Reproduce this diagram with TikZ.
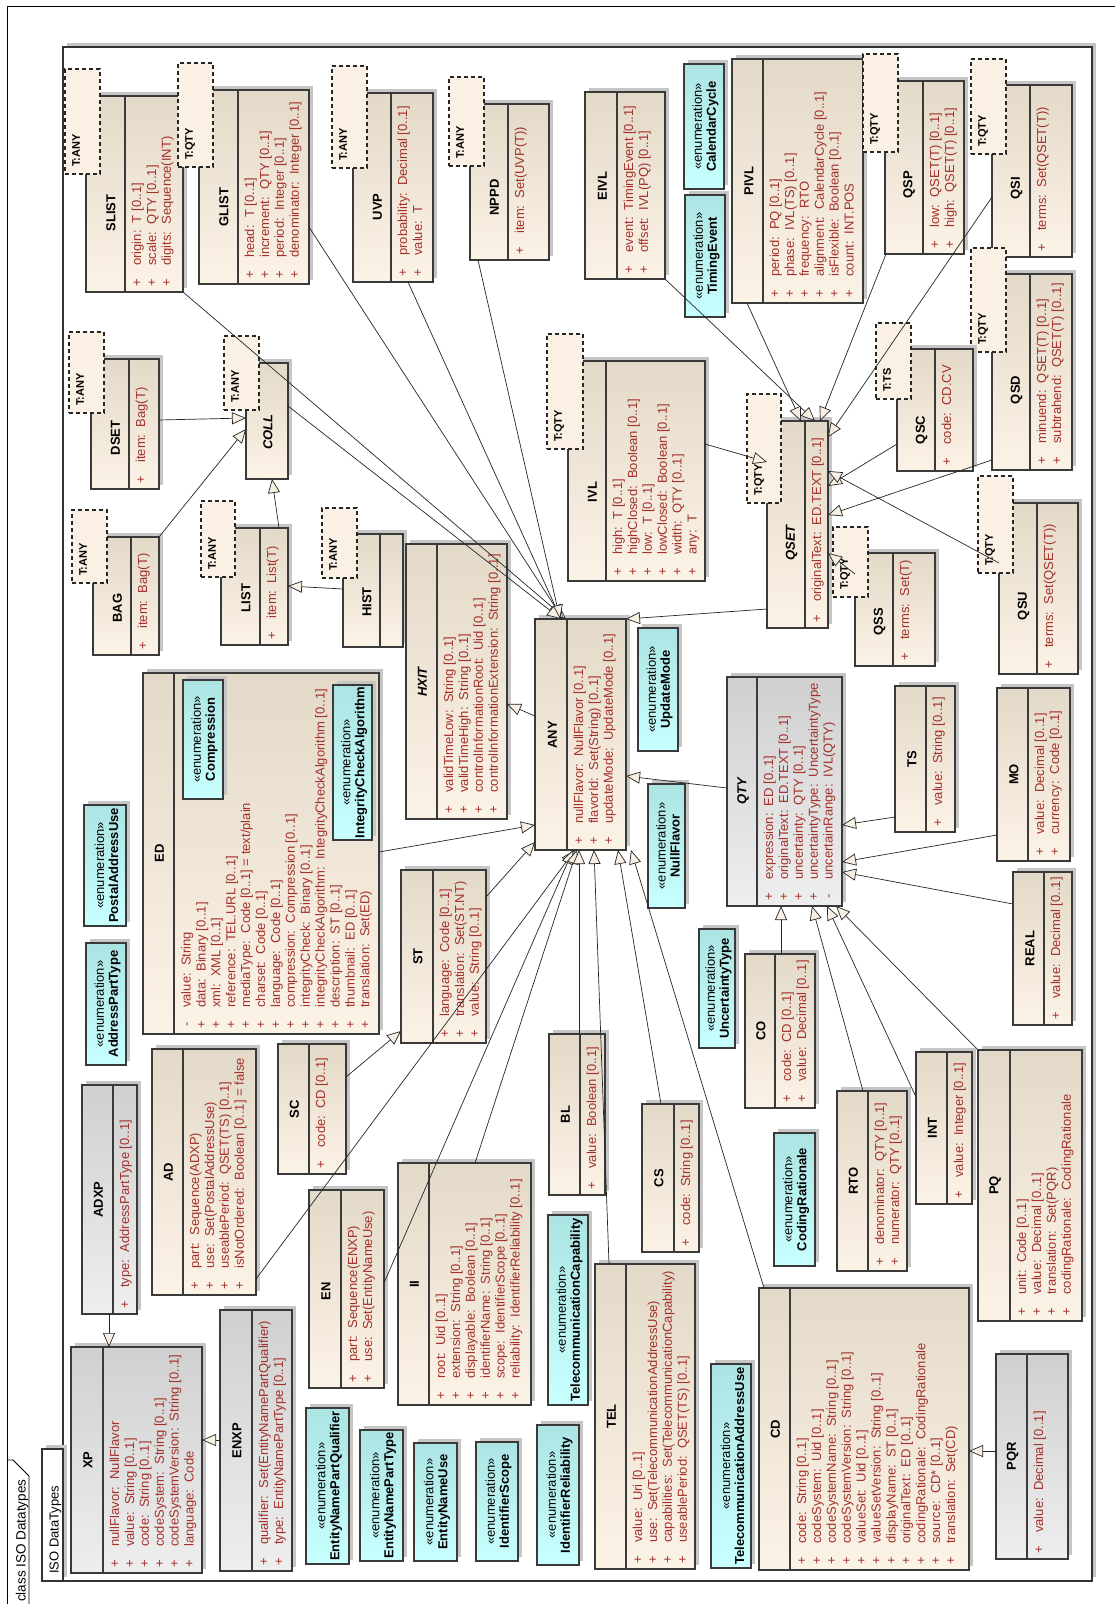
\documentclass[tikz,border=0pt]{standalone}
\usepackage{fontspec}
\setmainfont{Liberation Sans}
\usetikzlibrary{arrows.meta,calc}
\definecolor{bgtop}{HTML}{E3D9C8}
\definecolor{bgbot}{HTML}{FCF3E7}
\definecolor{grtop}{HTML}{D0D0D0}
\definecolor{grbot}{HTML}{EEEEEE}
\definecolor{cytop}{HTML}{ACE4E4}
\definecolor{cybot}{HTML}{C8FFFF}
\definecolor{shadowc}{HTML}{C6C6C6}
\definecolor{tmplfill}{HTML}{FAF0E3}
\definecolor{attrc}{HTML}{A3302A}
\definecolor{boxline}{HTML}{3A3A3A}
\definecolor{arrowfill}{HTML}{F8F0E2}
\newcommand\attrs[1]{\begin{tabular}{@{}c@{\hspace{13pt}}l@{}}#1\end{tabular}}
\newcommand\cbox[7]{%
  \fill[shadowc] ({#3+4},{#4-4}) rectangle ({#5+4},{#6-4});
  \node[#2, minimum width={#5-#3}, minimum height={#6-#4}, anchor=north west] (#1) at (#3,#4) {};
  \ifx\relax#7\relax\else\draw[boxl] (#7,#4) -- (#7,#6);\fi
}
\newcommand\tmpl[6]{%
  \node[tmplbox, minimum width={#4-#2}, minimum height={#5-#3}, anchor=north west] (#1) at (#2,#3) {};
  \node[tlbl] (#1-l) at ({#2+7},{#5-7}) {#6};
}
\newcommand\enm[6]{%
  \fill[shadowc] ({#2+4},{#3-4}) rectangle ({#4+4},{#5-4});
  \node[enumc, minimum width={#4-#2}, minimum height={#5-#3}, anchor=north west] (#1) at (#2,#3) {};
  \node[etxt] (#1-t) at ({(#2+#4)/2+1.5},{(#3+#5)/2}) {«enumeration»\\\textbf{#6}};
}
\begin{document}
\begin{tikzpicture}[x=1pt,y=-1pt,
  boxbase/.style={draw=boxline, line width=1.1pt, inner sep=0pt, outer sep=0pt},
  beige/.style={boxbase, top color=bgtop, bottom color=bgbot},
  grayc/.style={boxbase, top color=grtop, bottom color=grbot},
  enumc/.style={boxbase, top color=cytop, bottom color=cybot},
  boxl/.style={draw=boxline, line width=1.1pt},
  tmplbox/.style={draw=black!85, dash pattern=on 4pt off 3pt, fill=tmplfill, line width=1.1pt, inner sep=0pt, outer sep=0pt},
  tlbl/.style={rotate=90, anchor=north west, inner sep=0pt, font=\fontsize{11}{13}\selectfont\bfseries},
  ttl/.style={rotate=90, inner sep=0pt, font=\fontsize{13}{15}\selectfont\bfseries},
  ttli/.style={rotate=90, inner sep=0pt, font=\fontsize{13}{15}\selectfont\bfseries\itshape},
  attr/.style={rotate=90, anchor=north west, inner sep=0pt, font=\fontsize{13}{14.9}\selectfont, text=attrc},
  etxt/.style={rotate=90, align=center, inner sep=0pt, font=\fontsize{13}{14}\selectfont},
  gen/.style={draw=black!85, line width=0.7pt, -{Triangle[length=14pt,width=12pt,fill=arrowfill]}},
]
\fill[white] (0,0) rectangle (1115,1604);
\useasboundingbox (0,0) rectangle (1115,1604);
% outer frame
\draw[line width=1pt] (7,1610) -- (7,6) -- (1120,6);
\draw[line width=0.8pt] (7,1460) -- (13,1460) -- (29,1476) -- (29,1610);
\node[rotate=90, anchor=base west, inner sep=0pt, font=\fontsize{13.5}{15}\selectfont] (frame-l) at (25.5,1602) {class ISO Datatypes};
% package frame
\fill[shadowc] (67,43) rectangle (1096,1577);
\draw[fill=white, line width=1.3pt, draw=black!80] (63,47) rectangle (1092,1581);
\fill[shadowc] (46,1445) rectangle (67,1577);
\draw[fill=white, line width=1.1pt, draw=black!80] (42,1449) rectangle (63,1581);
\node[rotate=90, anchor=base west, inner sep=0pt, font=\fontsize{13}{15}\selectfont] (pkg-l) at (58.5,1574) {ISO DataTypes};

% ---------------- classes ----------------
\cbox{SLIST}{beige}{86}{96}{183}{292}{125}
\node[ttl] (SLIST-t) at (111,213) {SLIST};
\node[attr] (SLIST-a) at (130.5,286.5) {\attrs{+ & origin:~~T [0..1]\\+ & scale:~~QTY [0..1]\\+ & digits:~~Sequence(INT)}};
\tmpl{SLIST-p}{65}{69}{100}{174}{T:ANY}

\cbox{GLIST}{beige}{199}{90}{309}{284}{238}
\node[ttl] (GLIST-t) at (224,207) {GLIST};
\node[attr] (GLIST-a) at (243.5,278.5) {\attrs{+ & head:~~T [0..1]\\+ & increment:~~QTY [0..1]\\+ & period:~~Integer [0..1]\\+ & denominator:~~Integer [0..1]}};
\tmpl{GLIST-p}{178}{63}{213}{167}{T:QTY}

\cbox{UVP}{beige}{353}{93}{433}{282}{391}
\node[ttl] (UVP-t) at (377.5,207) {UVP};
\node[attr] (UVP-a) at (396.5,276.5) {\attrs{+ & probability:~~Decimal [0..1]\\+ & value:~~T}};
\tmpl{UVP-p}{332}{66}{367}{168}{T:ANY}

\cbox{NPPD}{beige}{470}{104}{549}{260}{508}
\node[ttl] (NPPD-t) at (494.5,197.5) {NPPD};
\node[attr] (NPPD-a) at (513.5,254.5) {\attrs{+ & item:~~Set(UVP(T))}};
\tmpl{NPPD-p}{449}{77}{484}{166}{T:ANY}

\cbox{EIVL}{beige}{585}{92}{665}{279}{617}
\node[ttl] (EIVL-t) at (602.5,186) {EIVL};
\node[attr] (EIVL-a) at (622.5,273.5) {\attrs{+ & event:~~TimingEvent [0..1]\\+ & offset:~~IVL(PQ) [0..1]}};

\cbox{PIVL}{beige}{732}{59}{863}{303}{763}
\node[ttl] (PIVL-t) at (749,181) {PIVL};
\node[attr] (PIVL-a) at (768.5,297.5) {\attrs{+ & period:~~PQ [0..1]\\+ & phase:~~IVL(TS) [0..1]\\+ & frequency:~~RTO\\+ & alignment:~~CalendarCycle [0..1]\\+ & isFlexible:~~Boolean [0..1]\\+ & count:~~INT.POS}};

\cbox{QSP}{beige}{885}{81}{964}{254}{923}
\node[ttl] (QSP-t) at (909,185) {QSP};
\node[attr] (QSP-a) at (928.5,248.5) {\attrs{+ & low:~~QSET(T) [0..1]\\+ & high:~~QSET(T) [0..1]}};
\tmpl{QSP-p}{863}{54}{898}{152}{T:QTY}

\cbox{QSI}{beige}{992}{85}{1072}{257}{1030}
\node[ttl] (QSI-t) at (1016.5,188) {QSI};
\node[attr] (QSI-a) at (1035.5,251.5) {\attrs{+ & terms:~~Set(QSET(T))}};
\tmpl{QSI-p}{971}{59}{1006}{154}{T:QTY}

\cbox{QSD}{beige}{992}{274}{1072}{470}{1030}
\node[ttl] (QSD-t) at (1016.5,390) {QSD};
\node[attr] (QSD-a) at (1035.5,464.5) {\attrs{+ & minuend:~~QSET(T) [0..1]\\+ & subtrahend:~~QSET(T) [0..1]}};
\tmpl{QSD-p}{971}{248}{1006}{352}{T:QTY}

\cbox{QSC}{beige}{897}{349}{973}{471}{935}
\node[ttl] (QSC-t) at (921.5,430) {QSC};
\node[attr] (QSC-a) at (940.5,465.5) {\attrs{+ & code:~~CD.CV}};
\tmpl{QSC-p}{876}{323}{911}{399}{T:TS}

\cbox{QSET}{beige}{767}{421}{828}{628}{805}
\node[ttli] (QSET-t) at (791.5,543) {QSET};
\node[attr] (QSET-a) at (810.5,622.5) {\attrs{+ & originalText:~~ED.TEXT [0..1]}};
\tmpl{QSET-p}{747}{394}{781}{503}{T:QTY}

\cbox{QSS}{beige}{855}{553}{935}{666}{893}
\node[ttl] (QSS-t) at (879.5,622) {QSS};
\node[attr] (QSS-a) at (898.5,660.5) {\attrs{+ & terms:~~Set(T)}};
\tmpl{QSS-p}{833}{527}{868}{597}{T:QTY}

\cbox{QSU}{beige}{999}{503}{1078}{674}{1037}
\node[ttl] (QSU-t) at (1023.5,606) {QSU};
\node[attr] (QSU-a) at (1042.5,668.5) {\attrs{+ & terms:~~Set(QSET(T))}};
\tmpl{QSU-p}{978}{476}{1013}{573}{T:QTY}

\cbox{IVL}{beige}{568}{361}{705}{581}{606}
\node[ttl] (IVL-t) at (592.5,492) {IVL};
\node[attr] (IVL-a) at (611.5,575.5) {\attrs{+ & high:~~T [0..1]\\+ & highClosed:~~Boolean [0..1]\\+ & low:~~T [0..1]\\+ & lowClosed:~~Boolean [0..1]\\+ & width:~~QTY [0..1]\\+ & any:~~T}};
\tmpl{IVL-p}{547}{334}{583}{449}{T:QTY}

\cbox{DSET}{beige}{91}{359}{159}{489}{129}
\node[ttl] (DSET-t) at (115.5,438) {DSET};
\node[attr] (DSET-a) at (134.5,483.5) {\attrs{+ & item:~~Bag(T)}};
\tmpl{DSET-p}{69}{332}{104}{413}{T:ANY}

\cbox{BAG}{beige}{93}{537}{159}{655}{131}
\node[ttl] (BAG-t) at (117.5,608) {BAG};
\node[attr] (BAG-a) at (136.5,649.5) {\attrs{+ & item:~~Bag(T)}};
\tmpl{BAG-p}{72}{510}{107}{583}{T:ANY}

\cbox{COLL}{beige}{246}{363}{288}{479}{}
\node[ttli] (COLL-t) at (268,432) {COLL};
\tmpl{COLL-p}{224}{336}{259}{410}{T:ANY}

\cbox{LIST}{beige}{221}{528}{288}{645}{260}
\node[ttl] (LIST-t) at (246,598) {LIST};
\node[attr] (LIST-a) at (265.5,639.5) {\attrs{+ & item:~~List(T)}};
\tmpl{LIST-p}{201}{501}{235}{577}{T:ANY}

\cbox{HIST}{beige}{343}{534}{403}{647}{380}
\node[ttl] (HIST-t) at (367,602) {HIST};
\tmpl{HIST-p}{322}{508}{357}{578}{T:ANY}

\cbox{HXIT}{beige}{406}{544}{507}{819}{437}
\node[ttli] (HXIT-t) at (422.5,682) {HXIT};
\node[attr] (HXIT-a) at (442.5,813.5) {\attrs{+ & validTimeLow:~~String [0..1]\\+ & validTimeHigh:~~String [0..1]\\+ & controlInformationRoot:~~Uid [0..1]\\+ & controlInformationExtension:~~String [0..1]}};

\cbox{ED}{beige}{143}{673}{379}{1034}{174}
\node[ttl] (ED-t) at (159.5,853.5) {ED};
\node[attr] (ED-a) at (180,1028.5) {\attrs{- & value:~~String\\+ & data:~~Binary [0..1]\\+ & xml:~~XML [0..1]\\+ & reference:~~TEL.URL [0..1]\\+ & mediaType:~~Code [0..1] = text/plain\\+ & charset:~~Code [0..1]\\+ & language:~~Code [0..1]\\+ & compression:~~Compression [0..1]\\+ & integrityCheck:~~Binary [0..1]\\+ & integrityCheckAlgorithm:~~IntegrityCheckAlgorithm [0..1]\\+ & description:~~ST [0..1]\\+ & thumbnail:~~ED [0..1]\\+ & translation:~~Set(ED)}};
\enm{Compression}{183}{680}{223}{799}{Compression}
\enm{IntegrityCheckAlgorithm}{333}{685}{372}{840}{IntegrityCheckAlgorithm}

\cbox{ANY}{beige}{535}{619}{626}{850}{567}
\node[ttl] (ANY-t) at (552.5,735) {ANY};
\node[attr] (ANY-a) at (572.5,844.5) {\attrs{+ & nullFlavor:~~NullFlavor [0..1]\\+ & flavorId:~~Set(String) [0..1]\\+ & updateMode:~~UpdateMode [0..1]}};

\cbox{QTY}{grayc}{727}{677}{842}{906}{757}
\node[ttli] (QTY-t) at (743,791.5) {QTY};
\node[attr] (QTY-a) at (762.5,900.5) {\attrs{+ & expression:~~ED [0..1]\\+ & originalText:~~ED.TEXT [0..1]\\+ & uncertainty:~~QTY [0..1]\\+ & uncertaintyType:~~UncertaintyType\\- & uncertainRange:~~IVL(QTY)}};

\cbox{TS}{beige}{895}{686}{955}{832}{926}
\node[ttl] (TS-t) at (912,759) {TS};
\node[attr] (TS-a) at (931.5,826.5) {\attrs{+ & value:~~String [0..1]}};

\cbox{MO}{beige}{997}{688}{1070}{861}{1028}
\node[ttl] (MO-t) at (1014,774.5) {MO};
\node[attr] (MO-a) at (1033.5,855.5) {\attrs{+ & value:~~Decimal [0..1]\\+ & currency:~~Code [0..1]}};

\cbox{REAL}{beige}{1013}{872}{1072}{1025}{1044}
\node[ttl] (REAL-t) at (1030,948.5) {REAL};
\node[attr] (REAL-a) at (1049.5,1019.5) {\attrs{+ & value:~~Decimal [0..1]}};

\cbox{CO}{beige}{745}{954}{815}{1108}{775}
\node[ttl] (CO-t) at (761,1031) {CO};
\node[attr] (CO-a) at (780.5,1102.5) {\attrs{+ & code:~~CD [0..1]\\+ & value:~~Decimal [0..1]}};

\cbox{RTO}{beige}{837}{1091}{907}{1271}{868}
\node[ttl] (RTO-t) at (853.5,1181) {RTO};
\node[attr] (RTO-a) at (873.5,1265.5) {\attrs{+ & denominator:~~QTY [0..1]\\+ & numerator:~~QTY [0..1]}};

\cbox{INT}{beige}{916}{1052}{972}{1204}{947}
\node[ttl] (INT-t) at (932.5,1128) {INT};
\node[attr] (INT-a) at (952.5,1198.5) {\attrs{+ & value:~~Integer [0..1]}};

\cbox{PQ}{beige}{978}{1050}{1082}{1321}{1010}
\node[ttl] (PQ-t) at (995,1185.5) {PQ};
\node[attr] (PQ-a) at (1015.5,1315.5) {\attrs{+ & unit:~~Code [0..1]\\+ & value:~~Decimal [0..1]\\+ & translation:~~Set(PQR)\\+ & codingRationale:~~CodingRationale}};

\cbox{PQR}{grayc}{996}{1354}{1068}{1559}{1027}
\node[ttl] (PQR-t) at (1012.5,1456.5) {PQR};
\node[attr] (PQR-a) at (1032.5,1553.5) {\attrs{+ & value:~~Decimal [0..1]}};

\cbox{CD}{beige}{759}{1288}{969}{1570}{790}
\node[ttl] (CD-t) at (775.5,1429) {CD};
\node[attr] (CD-a) at (795.5,1564.5) {\attrs{+ & code:~~String [0..1]\\+ & codeSystem:~~Uid [0..1]\\+ & codeSystemName:~~String [0..1]\\+ & codeSystemVersion:~~String [0..1]\\+ & valueSet:~~Uid [0..1]\\+ & valueSetVersion:~~String [0..1]\\+ & displayName:~~ST [0..1]\\+ & originalText:~~ED [0..1]\\+ & codingRationale:~~CodingRationale\\+ & source:~~CD* [0..1]\\+ & translation:~~Set(CD)}};

\cbox{TEL}{beige}{595}{1264}{695}{1569}{626}
\node[ttl] (TEL-t) at (611.5,1416.5) {TEL};
\node[attr] (TEL-a) at (631.5,1563.5) {\attrs{+ & value:~~Uri [0..1]\\+ & use:~~Set(TelecommunicationAddressUse)\\+ & capabilities:~~Set(TelecommunicationCapability)\\+ & useablePeriod:~~QSET(TS) [0..1]}};

\cbox{CS}{beige}{642}{1104}{699}{1252}{674}
\node[ttl] (CS-t) at (659,1178) {CS};
\node[attr] (CS-a) at (679.5,1246.5) {\attrs{+ & code:~~String [0..1]}};

\cbox{BL}{beige}{549}{1034}{605}{1195}{580}
\node[ttl] (BL-t) at (565.5,1114.5) {BL};
\node[attr] (BL-a) at (585.5,1189.5) {\attrs{+ & value:~~Boolean [0..1]}};

\cbox{II}{beige}{398}{1163}{531}{1405}{429}
\node[ttl] (II-t) at (414.5,1284) {II};
\node[attr] (II-a) at (434.5,1399.5) {\attrs{+ & root:~~Uid [0..1]\\+ & extension:~~String [0..1]\\+ & displayable:~~Boolean [0..1]\\+ & identifierName:~~String [0..1]\\+ & scope:~~IdentifierScope [0..1]\\+ & reliability:~~IdentifierReliability [0..1]}};

\cbox{ST}{beige}{401}{870}{486}{1043}{433}
\node[ttl] (ST-t) at (418,956.5) {ST};
\node[attr] (ST-a) at (438.5,1037.5) {\attrs{+ & language:~~Code [0..1]\\+ & translation:~~Set(ST.NT)\\+ & value:~~String [0..1]}};

\cbox{SC}{beige}{278}{1044}{346}{1174}{309}
\node[ttl] (SC-t) at (294.5,1109) {SC};
\node[attr] (SC-a) at (314.5,1168.5) {\attrs{+ & code:~~CD [0..1]}};

\cbox{EN}{beige}{309}{1190}{384}{1388}{341}
\node[ttl] (EN-t) at (326,1291) {EN};
\node[attr] (EN-a) at (346.5,1382.5) {\attrs{+ & part:~~Sequence(ENXP)\\+ & use:~~Set(EntityNameUse)}};

\cbox{ENXP}{grayc}{220}{1310}{292}{1571}{252}
\node[ttl] (ENXP-t) at (237,1440.5) {ENXP};
\node[attr] (ENXP-a) at (257.5,1565.5) {\attrs{+ & qualifier:~~Set(EntityNamePartQualifier)\\+ & type:~~EntityNamePartType [0..1]}};

\cbox{XP}{grayc}{71}{1347}{202}{1573}{103}
\node[ttl] (XP-t) at (88,1460) {XP};
\node[attr] (XP-a) at (108.5,1567.5) {\attrs{+ & nullFlavor:~~NullFlavor\\+ & value:~~String [0..1]\\+ & code:~~String [0..1]\\+ & codeSystem:~~String [0..1]\\+ & codeSystemVersion:~~String [0..1]\\+ & language:~~Code}};

\cbox{ADXP}{grayc}{82}{1085}{137}{1314}{113}
\node[ttl] (ADXP-t) at (98.5,1199.5) {ADXP};
\node[attr] (ADXP-a) at (118.5,1308.5) {\attrs{+ & type:~~AddressPartType [0..1]}};

\cbox{AD}{beige}{152}{1049}{256}{1295}{183}
\node[ttl] (AD-t) at (168.5,1172) {AD};
\node[attr] (AD-a) at (188.5,1289.5) {\attrs{+ & part:~~Sequence(ADXP)\\+ & use:~~Set(PostalAddressUse)\\+ & useablePeriod:~~QSET(TS) [0..1]\\+ & isNotOrdered:~~Boolean [0..1] = false}};

% ---------------- enumerations ----------------
\enm{CalendarCycle}{684}{64}{724}{189}{CalendarCycle}
\enm{TimingEvent}{685}{195}{725}{317}{TimingEvent}
\enm{UpdateMode}{638}{628}{678}{751}{UpdateMode}
\enm{NullFlavor}{648}{784}{685}{908}{NullFlavor}
\enm{UncertaintyType}{699}{929}{735}{1048}{UncertaintyType}
\enm{CodingRationale}{774}{1133}{815}{1266}{CodingRationale}
\enm{TelecommunicationAddressUse}{711}{1364}{751}{1568}{TelecommunicationAddressUse}
\enm{TelecommunicationCapability}{548}{1215}{588}{1405}{TelecommunicationCapability}
\enm{IdentifierReliability}{537}{1425}{579}{1565}{IdentifierReliability}
\enm{IdentifierScope}{476}{1442}{518}{1561}{IdentifierScope}
\enm{EntityNameUse}{414}{1443}{457}{1561}{EntityNameUse}
\enm{EntityNamePartType}{360}{1430}{403}{1561}{EntityNamePartType}
\enm{EntityNamePartQualifier}{306}{1408}{349}{1564}{EntityNamePartQualifier}
\enm{AddressPartType}{86}{943}{126}{1065}{AddressPartType}
\enm{PostalAddressUse}{84}{805}{126}{926}{PostalAddressUse}

% ---------------- generalizations ----------------
\draw[gen] (SLIST.south east) -- ($(ANY.north west)+(31,0)$);
\draw[gen] ($(GLIST.north west)+(110,137)$) -- ($(ANY.north west)+(28,0)$);
\draw[gen] ($(UVP.north west)+(55,189)$) -- ($(ANY.north west)+(26,0)$);
\draw[gen] ($(NPPD.north west)+(8,156)$) -- ($(ANY.north west)+(25,0)$);
\draw[gen] ($(COLL.north west)+(42,43)$) -- ($(ANY.north west)+(26,0)$);
\draw[gen] ($(DSET.north west)+(68,61)$) -- ($(COLL.north west)+(0,55)$);
\draw[gen] (BAG.north east) -- ($(COLL.north west)+(0,66)$);
\draw[gen] ($(LIST.north west)+(58,0)$) -- ($(COLL.north west)+(26,116)$);
\draw[gen] ($(HIST.north west)+(0,55)$) -- ($(LIST.north west)+(67,58)$);
\draw[gen] ($(ANY.north west)+(0,97)$) -- ($(HXIT.north west)+(101,160)$);
\draw[gen] ($(ED.north west)+(236,179)$) -- ($(ANY.north west)+(0,206)$);
\draw[gen] ($(ST.north west)+(85,27)$) -- ($(ANY.north west)+(0,223)$);
\draw[gen] ($(SC.north west)+(68,33)$) -- ($(ST.north west)+(0,161)$);
\draw[gen] ($(AD.north west)+(104,230)$) -- ($(ANY.north west)+(40,231)$);
\draw[gen] ($(EN.north west)+(75,93)$) -- ($(ANY.north west)+(38,231)$);
\draw[gen] ($(II.north west)+(77,0)$) -- ($(ANY.north west)+(42,231)$);
\draw[gen] ($(BL.north west)+(30,0)$) -- ($(ANY.north west)+(44,231)$);
\draw[gen] ($(TEL.north west)+(14,0)$) -- ($(ANY.north west)+(59,231)$);
\draw[gen] ($(CS.north west)+(19,0)$) -- ($(ANY.north west)+(83,231)$);
\draw[gen] ($(CD.north west)+(5,0)$) -- ($(ANY.north west)+(96,231)$);
\draw[gen] ($(QSET.north west)+(0,188)$) -- ($(ANY.north west)+(91,0)$);
\draw[gen] ($(QTY.north west)+(0,111)$) -- ($(ANY.north west)+(91,157)$);
\draw[gen] ($(IVL.north west)+(137,83)$) -- ($(QSET.north west)+(0,41)$);
\draw[gen] (EIVL.south east) -- ($(QSET.north west)+(48,0)$);
\draw[gen] ($(PIVL.north west)+(15,244)$) -- ($(QSET.north west)+(34,0)$);
\draw[gen] ($(QSP.north west)+(1,173)$) -- ($(QSET.north west)+(53,0)$);
\draw[gen] ($(QSI.north west)+(0,112)$) -- ($(QSET.north west)+(61,16)$);
\draw[gen] ($(QSC.north west)+(0,95)$) -- ($(QSET.north west)+(61,65)$);
\draw[gen] ($(QSD.north west)+(0,186)$) -- ($(QSET.north west)+(61,94)$);
\draw[gen] ($(QSU.north west)+(0,60)$) -- ($(QSET.north west)+(61,50)$);
\draw[gen] ($(QSS.north west)+(0,21)$) -- ($(QSET.north west)+(61,132)$);
\draw[gen] ($(TS.north west)+(0,131)$) -- ($(QTY.north west)+(115,148)$);
\draw[gen] ($(MO.north west)+(0,147)$) -- ($(QTY.north west)+(115,185)$);
\draw[gen] ($(REAL.north west)+(0,32)$) -- ($(QTY.north west)+(115,195)$);
\draw[gen] ($(CO.north west)+(36,0)$) -- ($(QTY.north west)+(54,229)$);
\draw[gen] ($(RTO.north west)+(26,0)$) -- ($(QTY.north west)+(85,229)$);
\draw[gen] ($(INT.north west)+(0,45)$) -- ($(QTY.north west)+(100,229)$);
\draw[gen] (PQ.north west) -- ($(QTY.north west)+(109,229)$);
\draw[gen] ($(PQR.north west)+(0,97)$) -- ($(CD.north west)+(210,163)$);
\draw[gen] ($(ADXP.north west)+(27,229)$) -- ($(XP.north west)+(38,0)$);
\draw[gen] ($(ENXP.north west)+(0,130)$) -- ($(XP.north west)+(131,93)$);
\end{tikzpicture}
\end{document}
